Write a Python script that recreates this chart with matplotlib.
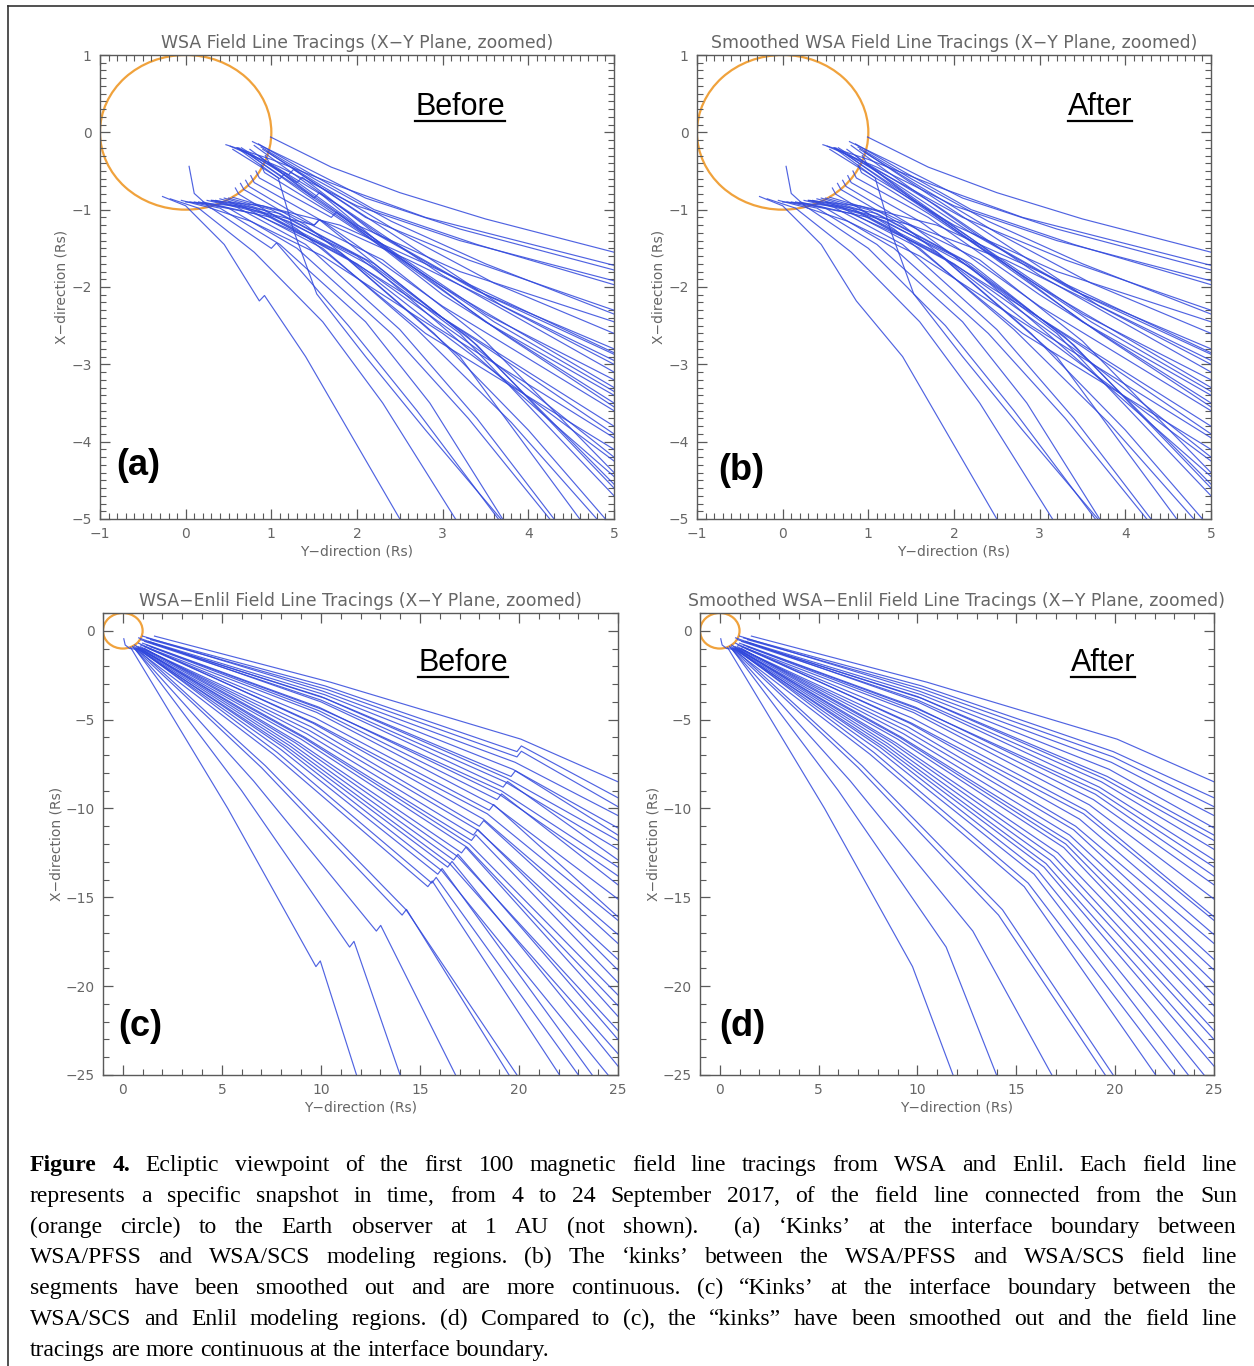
import matplotlib
matplotlib.use("Agg")
import matplotlib.pyplot as plt
from matplotlib.patches import Circle
from matplotlib.lines import Line2D
from matplotlib.ticker import MultipleLocator

W, H, DPI = 1254, 1366, 100

# ---------------- WSA field lines (panels a / b), vertices in Rs ----------------
# Y-direction (horizontal axis) and X-direction (vertical axis) of each traced line
wsa_y = [
    [0.99, 1.7, 2.5, 3.5, 5.0],
    [0.47, 1.0, 1.8, 2.8, 5.0],
    [0.78, 1.3, 2.1, 3.2, 5.0],
    [0.52, 1.1, 2.0, 3.2, 5.0],
    [0.85, 1.4, 2.2, 3.4, 5.0],
    [0.60, 1.2, 2.1, 3.3, 5.0],
    [0.88, 1.5, 2.4, 3.5, 5.0],
    [0.55, 1.1, 2.0, 3.2, 5.0],
    [0.90, 1.6, 2.5, 3.6, 5.0],
    [0.65, 1.3, 2.2, 3.4, 5.0],
    [0.80, 1.4, 2.3, 3.5, 5.0],
    [0.95, 1.7, 2.6, 3.7, 5.0],
    [0.93, 0.98, 1.8, 3.0, 5.0],
    [0.88, 0.92, 1.7, 3.0, 5.0],
    [0.82, 0.86, 1.7, 3.0, 5.0],
    [0.76, 0.80, 1.6, 3.0, 5.0],
    [0.70, 0.74, 1.5, 3.0, 5.0],
    [0.64, 0.68, 1.4, 2.9, 5.0],
    [0.58, 0.62, 1.3, 2.8, 5.0],
    [-0.27, 0.00, 0.45, 0.86, 1.40, 2.50],
    [-0.18, 0.15, 0.80, 1.60, 2.30, 3.15],
    [-0.05, 0.30, 1.00, 1.90, 2.70, 3.65],
    [0.05, 0.40, 1.10, 2.10, 2.85, 3.70],
    [0.15, 0.50, 1.30, 2.40, 3.30, 4.25],
    [0.25, 0.60, 1.40, 2.50, 3.40, 4.30],
    [0.32, 0.70, 1.60, 2.70, 3.80, 4.80],
    [0.40, 0.80, 1.80, 2.90, 4.00, 4.90],
    [0.45, 0.90, 2.00, 3.20, 5.00],
    [0.50, 1.00, 2.10, 3.30, 5.00],
    [0.35, 1.10, 2.20, 3.40, 5.00],
    [0.55, 1.20, 2.30, 3.50, 5.00],
    [0.20, 1.00, 2.00, 3.40, 5.00],
    [0.10, 0.80, 1.70, 3.00, 5.00],
    [0.00, 0.60, 1.50, 2.60, 3.80, 5.00],
    [0.30, 0.90, 1.80, 2.80, 5.00],
    [0.04, 0.10, 0.29, 0.76, 1.60, 3.00, 5.00],
    [0.60, 1.08, 1.26, 1.53, 2.10, 2.80, 3.68],
    [0.70, 1.40, 2.40, 3.60, 5.00],
    [0.85, 1.50, 2.50, 3.70, 5.00],
    [0.50, 1.20, 2.20, 3.40, 5.00],
    [0.30, 0.90, 1.90, 3.20, 4.60],
    [0.75, 1.40, 2.30, 3.50, 5.00],
    [0.62, 1.30, 2.30, 3.50, 5.00],
]
wsa_x = [
    [-0.06, -0.45, -0.78, -1.12, -1.55],
    [-0.16, -0.35, -0.70, -1.10, -1.72],
    [-0.12, -0.40, -0.85, -1.25, -1.78],
    [-0.18, -0.45, -0.95, -1.40, -1.92],
    [-0.15, -0.50, -1.00, -1.45, -1.97],
    [-0.20, -0.55, -1.10, -1.65, -2.30],
    [-0.19, -0.60, -1.15, -1.70, -2.35],
    [-0.22, -0.60, -1.20, -1.80, -2.45],
    [-0.22, -0.70, -1.30, -1.95, -2.60],
    [-0.20, -0.65, -1.30, -2.05, -2.80],
    [-0.17, -0.65, -1.35, -2.10, -2.87],
    [-0.25, -0.80, -1.45, -2.25, -3.00],
    [-0.30, -0.40, -0.95, -1.85, -3.10],
    [-0.42, -0.52, -1.05, -2.00, -3.30],
    [-0.50, -0.59, -1.10, -2.10, -3.50],
    [-0.56, -0.65, -1.15, -2.25, -3.60],
    [-0.62, -0.70, -1.20, -2.40, -3.80],
    [-0.66, -0.74, -1.20, -2.50, -3.95],
    [-0.72, -0.80, -1.25, -2.60, -4.10],
    [-0.83, -0.95, -1.45, -2.18, -2.90, -5.00],
    [-0.86, -0.98, -1.55, -2.45, -3.50, -5.00],
    [-0.88, -0.98, -1.50, -2.50, -3.60, -5.00],
    [-0.90, -0.98, -1.45, -2.45, -3.50, -5.00],
    [-0.90, -0.98, -1.50, -2.60, -3.70, -5.00],
    [-0.88, -0.97, -1.45, -2.55, -3.70, -5.00],
    [-0.88, -0.98, -1.50, -2.55, -3.75, -5.00],
    [-0.86, -0.98, -1.55, -2.60, -3.85, -5.00],
    [-0.85, -1.00, -1.60, -2.60, -4.70],
    [-0.85, -1.00, -1.65, -2.65, -4.55],
    [-0.88, -1.05, -1.70, -2.75, -4.60],
    [-0.84, -1.05, -1.65, -2.70, -4.40],
    [-0.90, -1.10, -1.70, -2.80, -4.20],
    [-0.90, -1.05, -1.50, -2.40, -3.90],
    [-0.90, -0.95, -1.20, -1.65, -2.30, -2.95],
    [-0.88, -0.95, -1.20, -1.70, -2.85],
    [-0.44, -0.79, -0.98, -1.15, -1.60, -2.60, -4.25],
    [-0.20, -0.59, -1.27, -2.09, -2.90, -3.85, -5.00],
    [-0.25, -0.80, -1.55, -2.45, -3.35],
    [-0.30, -0.85, -1.65, -2.60, -3.55],
    [-0.90, -1.15, -1.75, -2.90, -4.45],
    [-0.88, -1.05, -1.65, -2.90, -5.00],
    [-0.22, -0.75, -1.45, -2.35, -3.20],
    [-0.20, -0.70, -1.45, -2.45, -3.40],
]
# PFSS/SCS interface kinks seen in the un-smoothed tracings (panel a)
wsa_kink_line = [5, 7, 9, 14, 16, 19, 21, 33, 38]
wsa_kink_vertex = [1, 1, 1, 2, 2, 3, 2, 2, 1]
wsa_jog = (0.06, 0.07)

# ---------------- WSA-Enlil field lines (panels c / d), Rs ----------------
enl_start_y = [1.6, 1.2, 1.4, 1.0, 1.3, 0.9, 1.5, 1.1, 0.8, 1.2, 1.0, 1.4, 0.9, 1.1, 1.3, 0.8, 1.0, 1.2,
               0.9, 1.1, 0.8, 1.0, 0.7, 0.9, 0.6, 0.8, 0.7, 0.9, 0.6, 0.8, 0.5, 0.7, 0.6, 0.5, 0.6, 0.4]
enl_start_x = [-0.3, -0.4, -0.5, -0.3, -0.6, -0.5, -0.7, -0.6, -0.4, -0.8, -0.7, -0.9, -0.8, -0.9, -1.0, -0.7,
               -1.0, -1.1, -0.9, -1.0, -0.9, -1.1, -0.9, -1.0, -0.8, -1.0, -1.0, -1.1, -0.9, -1.0, -0.9, -1.0,
               -1.0, -0.9, -1.0, -0.95]
enl_mid_y = [10.5, 10.2, 10.3, 10.1, 10.2, 10.0, 10.2, 10.0, 10.0, 10.0, 9.9, 9.9, 9.8, 9.7, 9.7, 9.6, 9.5, 9.4,
             9.3, 9.2, 9.1, 9.0, 8.9, 8.7, 8.5, 8.4, 8.3, 8.1, 8.0, 7.8, 7.6, 7.2, 7.0, 6.6, 6.0, 5.3]
enl_mid_x = [-2.9, -3.1, -3.3, -3.4, -3.6, -3.7, -3.8, -3.9, -4.0, -4.4, -4.3, -4.5, -4.6, -4.9, -5.2, -5.2,
             -5.4, -5.6, -5.8, -6.0, -6.0, -6.1, -6.3, -6.3, -6.35, -6.45, -6.55, -6.55, -6.7, -6.85, -6.95,
             -7.6, -7.7, -8.45, -9.0, -10.0]
enl_kink_y = [20.1, 19.9, 19.9, 19.8, 19.7, 19.6, 19.4, 19.3, 19.2, 19.1, 19.0, 18.9, 18.7, 18.5, 18.4, 18.2,
              18.0, 17.9, 17.7, 17.6, 17.5, 17.4, 17.1, 16.9, 16.7, 16.5, 16.4, 16.1, 15.9, 15.6, 15.4, 14.3,
              14.1, 12.8, 11.45, 9.75]
enl_kink_x = [-6.1, -6.8, -7.1, -7.4, -7.8, -8.2, -8.3, -8.5, -8.8, -9.0, -9.2, -9.5, -9.8, -10.1, -10.3, -10.6,
              -11.0, -11.2, -11.5, -11.8, -12.0, -12.2, -12.5, -12.7, -12.9, -13.1, -13.3, -13.5, -13.7, -14.2,
              -14.4, -15.7, -16.0, -16.9, -17.8, -18.9]
enl_end_y = [25, 25, 25, 25, 25, 25, 25, 25, 25, 25, 25, 25, 25, 25, 25, 25, 25, 25, 25, 25, 25, 25, 25, 25,
             25, 25, 25, 24.5, 23.7, 23.0, 22.05, 19.9, 19.5, 16.8, 14.0, 11.8]
enl_end_x = [-8.5, -9.4, -9.9, -10.4, -11.1, -11.5, -11.8, -12.3, -12.9, -13.3, -13.8, -14.3, -15.1, -16.1,
             -16.3, -17.1, -17.6, -18.5, -19.1, -19.8, -20.5, -21.1, -21.7, -22.5, -23.0, -23.8, -24.5, -25,
             -25, -25, -25, -25, -25, -25, -25, -25]
# Enlil interface kink visible on these lines in panel c
enl_kinked = [1, 2, 5, 8, 11, 13, 16, 18, 19, 22, 24, 26, 28, 29, 30, 32, 33, 34, 35]
enl_hook_y = [0.05, 0.12, 0.35, 0.8]
enl_hook_x = [-0.45, -0.8, -1.0, -1.05]
enl_jog = (0.22, 0.32)   # Enlil interface kink step (panel c)

caption_lines = [
    "Figure 4. Ecliptic viewpoint of the first 100 magnetic field line tracings from WSA and Enlil. Each field line",
    "represents a specific snapshot in time, from 4 to 24 September 2017, of the field line connected from the Sun",
    "(orange circle) to the Earth observer at 1 AU (not shown).  (a) \u2018Kinks\u2019 at the interface boundary between",
    "WSA/PFSS and WSA/SCS modeling regions. (b) The \u2018kinks\u2019 between the WSA/PFSS and WSA/SCS field line",
    "segments have been smoothed out and are more continuous. (c) \u201cKinks\u2019 at the interface boundary between the",
    "WSA/SCS and Enlil modeling regions. (d) Compared to (c), the \u201ckinks\u201d have been smoothed out and the field line",
    "tracings are more continuous at the interface boundary.",
]

LINE = dict(color="#3148dc", lw=0.85, alpha=0.85)
SUN = "#f0a23c"
GREY = "#5a5a5a"

fig = plt.figure(figsize=(W / DPI, H / DPI), dpi=DPI)


def axes_px(left, top, right, bottom):
    return fig.add_axes([left / W, 1 - bottom / H, (right - left) / W, (bottom - top) / H])


def style(ax, xlim, ylim, major, minor, title, ylab_x):
    ax.set_xlim(*xlim)
    ax.set_ylim(*ylim)
    ax.xaxis.set_major_locator(MultipleLocator(major))
    ax.yaxis.set_major_locator(MultipleLocator(major))
    ax.xaxis.set_minor_locator(MultipleLocator(minor))
    ax.yaxis.set_minor_locator(MultipleLocator(minor))
    ax.tick_params(which="both", direction="in", top=True, right=True, color=GREY,
                   labelcolor="#666666", labelsize=10)
    ax.tick_params(which="major", length=7, width=0.9, pad=6)
    ax.tick_params(which="minor", length=4, width=0.8)
    for s in ax.spines.values():
        s.set_color(GREY)
        s.set_linewidth(1.0)
    ax.set_title(title, color="#666666", fontsize=12.4, pad=5)
    ax.set_xlabel("Y\u2212direction (Rs)", color="#666666", fontsize=10)
    ax.set_ylabel("X\u2212direction (Rs)", color="#666666", fontsize=10)
    ax.xaxis.set_label_coords(0.5, -0.056)
    ax.yaxis.set_label_coords(ylab_x, 0.5)
    ax.add_patch(Circle((0, 0), 1, fill=False, ec=SUN, lw=1.6, zorder=1))


ax_a = axes_px(100, 55, 614, 519)
ax_b = axes_px(697, 55, 1211, 519)
ax_c = axes_px(103, 613, 618, 1075)
ax_d = axes_px(700, 613, 1214, 1075)

style(ax_a, (-1, 5), (-5, 1), 1, 0.1, "WSA Field Line Tracings (X\u2212Y Plane, zoomed)", -0.062)
style(ax_b, (-1, 5), (-5, 1), 1, 0.1, "Smoothed WSA Field Line Tracings (X\u2212Y Plane, zoomed)", -0.062)
style(ax_c, (-1, 25), (-25, 1), 5, 1, "WSA\u2212Enlil Field Line Tracings (X\u2212Y Plane, zoomed)", -0.076)
style(ax_d, (-1, 25), (-25, 1), 5, 1, "Smoothed WSA\u2212Enlil Field Line Tracings (X\u2212Y Plane, zoomed)", -0.076)

# panels a and b
for i, (ys, xs) in enumerate(zip(wsa_y, wsa_x)):
    ax_b.plot(ys, xs, **LINE)
    if i in wsa_kink_line:
        k = wsa_kink_vertex[wsa_kink_line.index(i)]
        ys = ys[:k + 1] + [ys[k] + wsa_jog[0]] + ys[k + 1:]
        xs = xs[:k + 1] + [xs[k] + wsa_jog[1]] + xs[k + 1:]
    ax_a.plot(ys, xs, **LINE)

# panels c and d
for i in range(len(enl_start_y)):
    ys = [enl_start_y[i], enl_mid_y[i], enl_kink_y[i], enl_end_y[i]]
    xs = [enl_start_x[i], enl_mid_x[i], enl_kink_x[i], enl_end_x[i]]
    ax_d.plot(ys, xs, **LINE)
    if i in enl_kinked:
        ys = ys[:3] + [enl_kink_y[i] + enl_jog[0]] + ys[3:]
        xs = xs[:3] + [enl_kink_x[i] + enl_jog[1]] + xs[3:]
    ax_c.plot(ys, xs, **LINE)
for ax in (ax_c, ax_d):
    ax.plot(enl_hook_y, enl_hook_x, **LINE)

# panel annotations
tags = []
for (x, y, s) in [(460, 107, "Before"), (1100, 107, "After"), (463, 663, "Before"), (1103, 663, "After")]:
    tags.append(fig.text(x / W, 1 - y / H, s, fontsize=22, family="Liberation Sans",
                         ha="center", va="center", color="black"))
for (x, y, s) in [(138, 466, "(a)"), (741, 471, "(b)"), (140, 1027, "(c)"), (742, 1027, "(d)")]:
    fig.text(x / W, 1 - y / H, s, fontsize=26, family="Liberation Sans", weight="bold",
             ha="center", va="center", color="black")

# outer frame
fig.add_artist(Line2D([8 / W, 8 / W], [0, 1 - 6 / H], transform=fig.transFigure, color="#333333", lw=1.2))
fig.add_artist(Line2D([8 / W, 1], [1 - 6 / H, 1 - 6 / H], transform=fig.transFigure, color="#333333", lw=1.2))

renderer = fig.canvas.get_renderer()

# underline Before / After
for t in tags:
    bb = t.get_window_extent(renderer)
    yl = bb.y0 + 1
    fig.add_artist(Line2D([bb.x0 / W, bb.x1 / W], [yl / H, yl / H], transform=fig.transFigure,
                          color="black", lw=1.6))

# justified caption
x_left, x_right = 30, 1237
cap_size = 17
for i, line in enumerate(caption_lines):
    words = line.split(" ")
    ybase = 1 - (1171 + i * 30.8) / H
    texts = []
    for j, w in enumerate(words):
        bold = (i == 0 and j < 2)
        texts.append(fig.text(0, ybase, w, fontsize=cap_size, family="Liberation Serif",
                              weight="bold" if bold else "normal", va="baseline", ha="left"))
    widths = [t.get_window_extent(renderer).width if t.get_text() else 0 for t in texts]
    if i < len(caption_lines) - 1:
        gap = (x_right - x_left - sum(widths)) / (len(words) - 1)
    else:
        gap = cap_size * 0.25 * DPI / 72
    x = x_left
    for t, w in zip(texts, widths):
        t.set_x(x / W)
        x += w + gap

fig.savefig("out.png", dpi=DPI)
